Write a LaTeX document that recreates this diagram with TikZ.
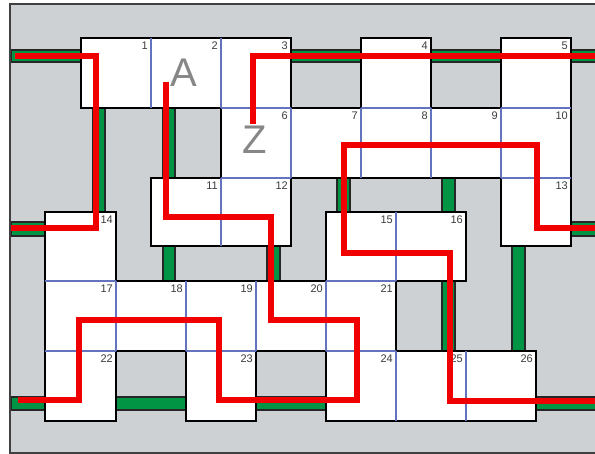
\documentclass[tikz,border=0pt]{standalone}
\usepackage{fontspec}
\setsansfont{Liberation Sans}
\definecolor{bggray}{RGB}{206,209,212}
\definecolor{pipegreen}{RGB}{0,148,68}
\definecolor{gridblue}{RGB}{100,115,190}
\definecolor{pathred}{RGB}{240,0,0}
\definecolor{numgray}{RGB}{60,60,60}
\definecolor{lettergray}{RGB}{135,135,135}
\begin{document}
\begin{tikzpicture}[x=1pt,y=-1pt,
  pipe/.style={fill=pipegreen,draw=black!85,line width=1.2pt},
  roomgroup/.style={fill=white,draw=black,line width=2.8pt,line join=miter},
  cellline/.style={draw=gridblue,line width=1.1pt},
  route/.style={draw=pathred,line width=5.5pt,line join=miter},
  num/.style={anchor=north east,inner sep=0pt,font=\sffamily\fontsize{11}{11}\selectfont,text=numgray},
  letter/.style={font=\sffamily\fontsize{40}{40}\selectfont,text=lettergray,inner sep=0pt}]
\useasboundingbox (0,0) rectangle (595,454);
\clip (0,0) rectangle (595,454);
\fill[white] (0,0) rectangle (595,454);
\fill[bggray] (10,4) rectangle (605,453);
% pipes
\draw[pipe] (11,50) rectangle (85,62);
\draw[pipe] (287,50) rectangle (365,62);
\draw[pipe] (427,50) rectangle (505,62);
\draw[pipe] (567,50) rectangle (600,62);
\draw[pipe] (11,222) rectangle (49,236);
\draw[pipe] (567,222) rectangle (600,236);
\draw[pipe] (11,397) rectangle (49,410);
\draw[pipe] (112,397) rectangle (190,410);
\draw[pipe] (252,397) rectangle (330,410);
\draw[pipe] (532,397) rectangle (600,410);
\draw[pipe] (93,104) rectangle (105,216);
\draw[pipe] (163,104) rectangle (175,181);
\draw[pipe] (337,174) rectangle (350,216);
\draw[pipe] (442,174) rectangle (455,216);
\draw[pipe] (163,242) rectangle (175,285);
\draw[pipe] (267,242) rectangle (280,285);
\draw[pipe] (442,277) rectangle (455,355);
\draw[pipe] (512,242) rectangle (525,355);
% room groups
\draw[roomgroup] (81,38) -- (291,38) -- (291,108) -- (361,108) -- (361,38) -- (431,38) -- (431,108) -- (501,108) -- (501,38) -- (571,38) -- (571,246) -- (501,246) -- (501,178) -- (291,178) -- (291,246) -- (151,246) -- (151,178) -- (221,178) -- (221,108) -- (81,108) -- cycle;
\draw[roomgroup] (45,212) -- (116,212) -- (116,281) -- (326,281) -- (326,212) -- (466,212) -- (466,281) -- (396,281) -- (396,351) -- (536,351) -- (536,421) -- (326,421) -- (326,351) -- (256,351) -- (256,421) -- (186,421) -- (186,351) -- (116,351) -- (116,421) -- (45,421) -- cycle;
% cell lines
\draw[cellline] (151,38) -- (151,108);
\draw[cellline] (221,38) -- (221,108);
\draw[cellline] (221,108) -- (291,108);
\draw[cellline] (291,108) -- (291,178);
\draw[cellline] (361,108) -- (361,178);
\draw[cellline] (361,108) -- (431,108);
\draw[cellline] (431,108) -- (431,178);
\draw[cellline] (501,108) -- (501,178);
\draw[cellline] (501,108) -- (571,108);
\draw[cellline] (501,178) -- (571,178);
\draw[cellline] (221,178) -- (291,178);
\draw[cellline] (221,178) -- (221,246);
\draw[cellline] (45,281) -- (116,281);
\draw[cellline] (116,281) -- (116,351);
\draw[cellline] (186,281) -- (186,351);
\draw[cellline] (256,281) -- (256,351);
\draw[cellline] (326,281) -- (326,351);
\draw[cellline] (396,212) -- (396,281);
\draw[cellline] (326,281) -- (396,281);
\draw[cellline] (45,351) -- (116,351);
\draw[cellline] (186,351) -- (256,351);
\draw[cellline] (326,351) -- (396,351);
\draw[cellline] (396,351) -- (396,421);
\draw[cellline] (466,351) -- (466,421);
% numbers
\node[num] (n1) at (148,42) {1};
\node[num] (n2) at (218,42) {2};
\node[num] (n3) at (288,42) {3};
\node[num] (n4) at (428,42) {4};
\node[num] (n5) at (568,42) {5};
\node[num] (n6) at (288,112) {6};
\node[num] (n7) at (358,112) {7};
\node[num] (n8) at (428,112) {8};
\node[num] (n9) at (498,112) {9};
\node[num] (n10) at (568,112) {10};
\node[num] (n11) at (218,182) {11};
\node[num] (n12) at (288,182) {12};
\node[num] (n13) at (568,182) {13};
\node[num] (n14) at (113,216) {14};
\node[num] (n15) at (393,216) {15};
\node[num] (n16) at (463,216) {16};
\node[num] (n17) at (113,285) {17};
\node[num] (n18) at (183,285) {18};
\node[num] (n19) at (253,285) {19};
\node[num] (n20) at (323,285) {20};
\node[num] (n21) at (393,285) {21};
\node[num] (n22) at (113,355) {22};
\node[num] (n23) at (253,355) {23};
\node[num] (n24) at (393,355) {24};
\node[num] (n25) at (463,355) {25};
\node[num] (n26) at (533,355) {26};
% letters
\node[letter] (A) at (184,73) {A};
\node[letter] (Z) at (255,140) {Z};
% routes
\draw[route] (15,56) -- (96,56) -- (96,228) -- (10,228);
\draw[route] (166,82) -- (166,217) -- (271,217) -- (271,320) -- (357,320) -- (357,400) -- (219,400) -- (219,320) -- (79,320) -- (79,400) -- (18,400);
\draw[route] (253,124) -- (253,56) -- (600,56);
\draw[route] (600,228) -- (537,228) -- (537,145) -- (344,145) -- (344,253) -- (450,253) -- (450,401) -- (600,401);
% frame
\draw[draw=black!75,line width=2pt] (10,4) rectangle (605,453);
\end{tikzpicture}
\end{document}
